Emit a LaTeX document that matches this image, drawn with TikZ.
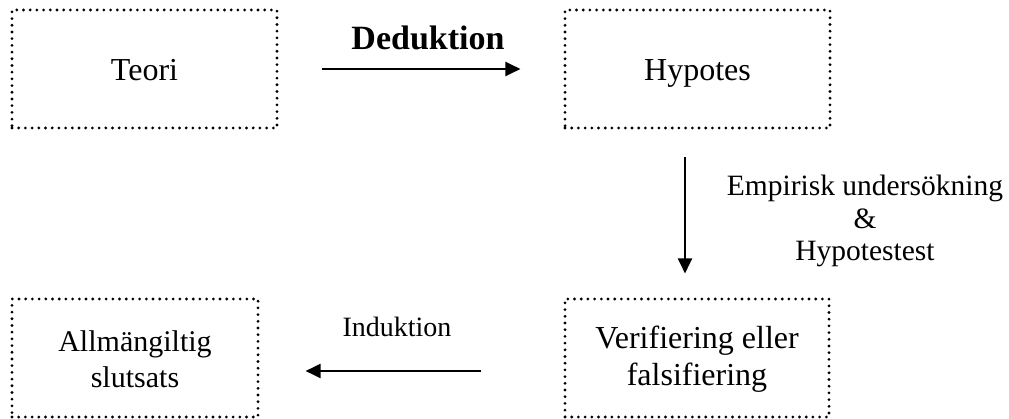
\documentclass[tikz,border=0pt]{standalone}
\usepackage{fontspec}
\setmainfont{Liberation Serif}
\usetikzlibrary{arrows.meta}
% a line of text lowered by #1, keeping the height of a strut
\newcommand\lowline[2]{\strut\smash{\raisebox{-#1}{#2}}}
\tikzset{
  stage/.style={draw, line width=3.1pt, line cap=round, dash pattern=on 0pt off 6.7pt,
    inner sep=0pt, minimum height=118pt, align=center,
    font=\fontsize{32}{37}\selectfont},
  flow/.style={line width=2pt, -{Triangle[length=15pt,width=14pt]}},
  note/.style={align=center, inner sep=0pt}
}
\begin{document}
\begin{tikzpicture}[x=1pt, y=-1pt]
  \useasboundingbox (0,0) rectangle (1009,419);
  % the four stages
  \node[stage, minimum width=265pt] (teori)   at (144.5,69)  {\lowline{4pt}{Teori}};
  \node[stage, minimum width=265pt] (hypotes) at (697.5,69)  {\lowline{4pt}{Hypotes}};
  \node[stage, minimum width=246pt, font=\fontsize{30}{36}\selectfont] (allm) at (135,358)
    {\lowline{4pt}{Allmängiltig}\\\lowline{4pt}{slutsats}};
  \node[stage, minimum width=264pt] (verif)   at (697,358)
    {\lowline{2pt}{Verifiering eller}\\\lowline{2pt}{falsifiering}};
  % labels of the steps
  \node[note, font=\fontsize{34}{40}\selectfont\bfseries] (ded) at (428,38) {Deduktion};
  \node[note, font=\fontsize{29.5}{32.5}\selectfont] (emp) at (865,222) {\strut Empirisk undersökning\\\strut\&\\\strut Hypotestest};
  \node[note, font=\fontsize{28}{32}\selectfont] (ind) at (397,327) {Induktion};
  % the steps
  \draw[flow, shorten <=43pt, shorten >=43pt] (teori.east) -- (hypotes.west);
  \draw[flow, shorten <=27pt, shorten >=24pt] ([xshift=-12.5pt]hypotes.south) -- ([xshift=-12pt]verif.north);
  \draw[flow, shorten <=82pt, shorten >=46pt] ([yshift=-13pt]verif.west) -- ([yshift=-13pt]allm.east);
\end{tikzpicture}
\end{document}
